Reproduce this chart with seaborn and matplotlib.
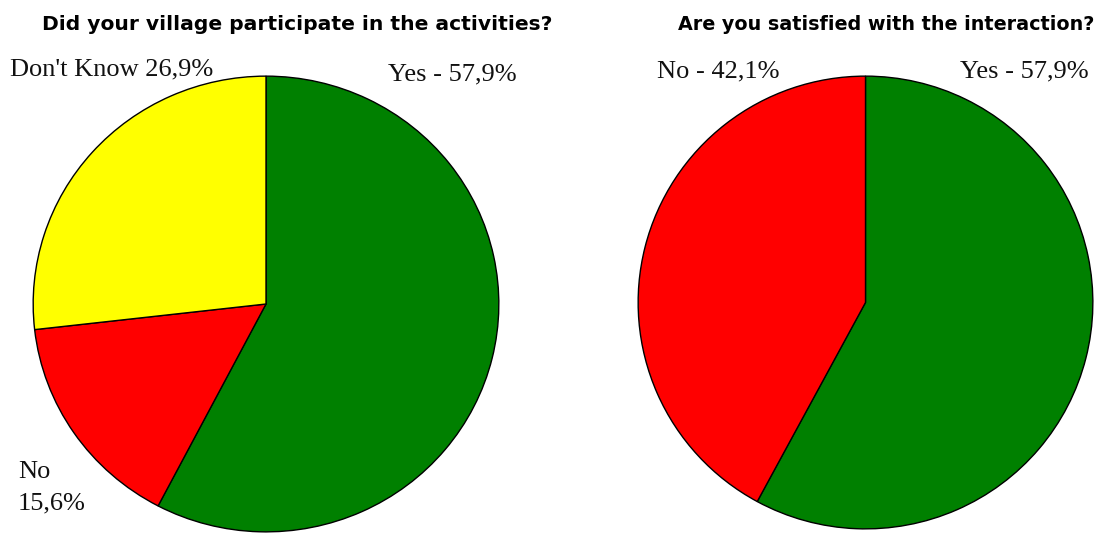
import matplotlib
matplotlib.use("Agg")
import matplotlib.pyplot as plt
import seaborn as sns

# ---- data ----
titles = ["Did your village participate in the activities?",
          "Are you satisfied with the interaction?"]
left_labels = ["Yes", "No", "Don't Know"]
left_values = [57.9, 15.6, 26.9]
right_labels = ["Yes", "No"]
right_values = [57.9, 42.1]
left_colors = ["#008000", "#FF0000", "#FFFF00"]
right_colors = ["#008000", "#FF0000"]

sns.set_theme(style="white")
plt.rcParams["font.family"] = ["DejaVu Sans"]

W, H = 1096, 535
fig = plt.figure(figsize=(W / 100, H / 100), dpi=100)
fig.patch.set_facecolor("white")


def fx(px):
    return px / W


def fy(py):
    return (H - py) / H


def pie_axes(cx, cy, rx, ry):
    return fig.add_axes([fx(cx - rx), fy(cy + ry), 2 * rx / W, 2 * ry / H])


def draw_pie(ax, values, colors):
    ax.pie(values, colors=colors, startangle=90, counterclock=False,
           radius=1.0,
           wedgeprops=dict(edgecolor="black", linewidth=1.0, antialiased=True))
    ax.set_aspect("auto")
    ax.set_xlim(-1.005, 1.005)
    ax.set_ylim(-1.005, 1.005)
    ax.axis("off")


axL = pie_axes(266, 304, 234, 229)
draw_pie(axL, left_values, left_colors)
axR = pie_axes(865.5, 302.5, 228.5, 227.5)
draw_pie(axR, right_values, right_colors)


def pct(v):
    return f"{v:.1f}".replace(".", ",") + "%"


serif = ["Liberation Serif", "DejaVu Serif"]
fs = 19
tc = "#111111"

# left pie labels
fig.text(fx(10), fy(75), f"{left_labels[2]} {pct(left_values[2])}",
         family=serif, fontsize=fs, ha="left", va="baseline", color=tc)
fig.text(fx(388), fy(80), f"{left_labels[0]} - {pct(left_values[0])}",
         family=serif, fontsize=fs, ha="left", va="baseline", color=tc)
fig.text(fx(18), fy(478), f"{left_labels[1]}",
         family=serif, fontsize=fs, ha="left", va="baseline", color=tc)
fig.text(fx(18), fy(509), f"{pct(left_values[1])}",
         family=serif, fontsize=fs, ha="left", va="baseline", color=tc)

# right pie labels
fig.text(fx(657), fy(77), f"{right_labels[1]} - {pct(right_values[1])}",
         family=serif, fontsize=fs, ha="left", va="baseline", color=tc)
fig.text(fx(960), fy(77), f"{right_labels[0]} - {pct(right_values[0])}",
         family=serif, fontsize=fs, ha="left", va="baseline", color=tc)

# titles, scaled to span the reference width
t1 = fig.text(fx(42), fy(30), titles[0], fontsize=11, fontweight="heavy",
              ha="left", va="baseline", color="black")
t2 = fig.text(fx(678), fy(30), titles[1], fontsize=11, fontweight="heavy",
              ha="left", va="baseline", color="black")
fig.canvas.draw()
r = fig.canvas.get_renderer()
for t, target in ((t1, 548 - 42), (t2, 1093 - 678)):
    w = t.get_window_extent(r).width
    t.set_fontsize(11 * target / w)

fig.savefig("out.png", dpi=100, facecolor="white")
